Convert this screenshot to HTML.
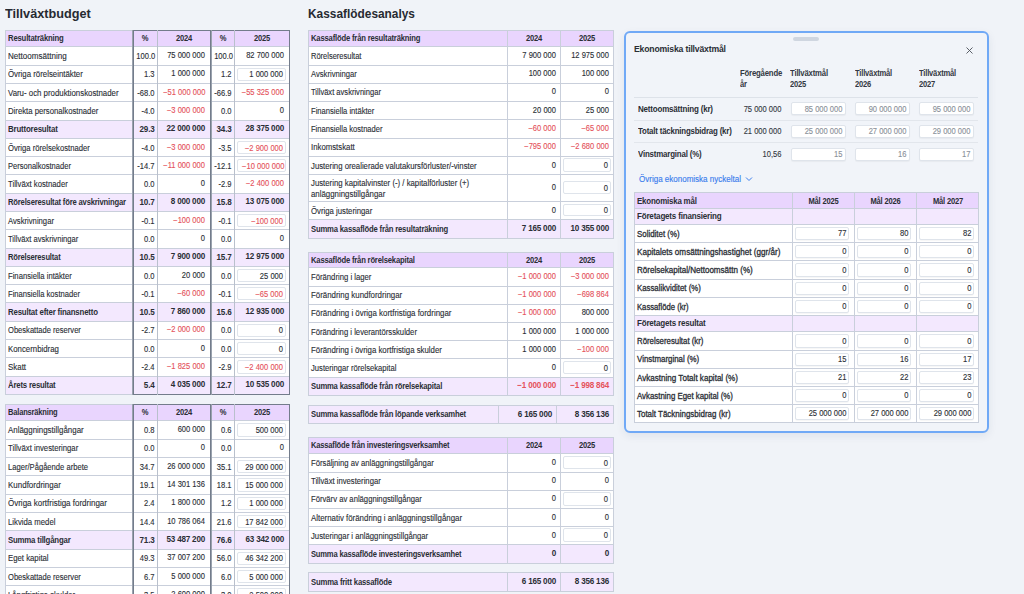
<!DOCTYPE html><html><head><meta charset="utf-8"><style>
*{margin:0;padding:0;box-sizing:border-box}
html,body{width:1024px;height:594px;overflow:hidden;background:#f0f3f8;font-family:"Liberation Sans",sans-serif;color:#2a2e35}
.a{position:absolute}
.t{position:absolute;height:12px;line-height:12px;font-size:8.5px;white-space:nowrap}
.r{transform:scaleX(0.91);-webkit-text-stroke:0.12px currentColor}
.n{transform:scaleX(0.89);-webkit-text-stroke:0.12px currentColor}
.b{font-weight:700;letter-spacing:-0.2px;transform:scaleX(0.89)}
.bn{font-weight:700;letter-spacing:-0.2px;transform:scaleX(0.95)}
.m{-webkit-text-stroke:0.3px currentColor}
.inp{position:absolute;background:#fff;border:1px solid #dfe4eb;border-radius:2px}
.h1{position:absolute;font-size:13.5px;font-weight:700;letter-spacing:0;line-height:16px;white-space:nowrap;transform:scaleX(0.94);transform-origin:left;color:#262a31}
</style></head><body>
<div class="h1" style="left:5px;top:5.5px">Tillväxtbudget</div>
<div class="h1" style="left:308px;top:5.5px;transform:scaleX(0.88)">Kassaflödesanalys</div>
<div class="a" style="left:5px;top:30px;width:285px;height:365px;background:#fff;"></div>
<div class="a" style="left:5px;top:30px;width:285px;height:16px;background:#e9d5fe;"></div>
<div class="a" style="left:5px;top:120px;width:285px;height:18px;background:#f3e8fe;"></div>
<div class="a" style="left:5px;top:193px;width:285px;height:18px;background:#f3e8fe;"></div>
<div class="a" style="left:5px;top:248px;width:285px;height:18px;background:#f3e8fe;"></div>
<div class="a" style="left:5px;top:302px;width:285px;height:19px;background:#f3e8fe;"></div>
<div class="a" style="left:5px;top:376px;width:285px;height:18px;background:#f3e8fe;"></div>
<div class="a" style="left:5px;top:30px;width:128px;height:1px;background:#c9cfdb;"></div>
<div class="a" style="left:133px;top:30px;width:157px;height:1px;background:#737c8b;"></div>
<div class="a" style="left:5px;top:46px;width:285px;height:1px;background:#c9cfdb;"></div>
<div class="a" style="left:5px;top:65px;width:285px;height:1px;background:#c9cfdb;"></div>
<div class="a" style="left:5px;top:83px;width:285px;height:1px;background:#c9cfdb;"></div>
<div class="a" style="left:5px;top:101px;width:285px;height:1px;background:#c9cfdb;"></div>
<div class="a" style="left:5px;top:120px;width:285px;height:1px;background:#c9cfdb;"></div>
<div class="a" style="left:5px;top:138px;width:285px;height:1px;background:#c9cfdb;"></div>
<div class="a" style="left:5px;top:156px;width:285px;height:1px;background:#c9cfdb;"></div>
<div class="a" style="left:5px;top:174px;width:285px;height:1px;background:#c9cfdb;"></div>
<div class="a" style="left:5px;top:193px;width:285px;height:1px;background:#c9cfdb;"></div>
<div class="a" style="left:5px;top:211px;width:285px;height:1px;background:#c9cfdb;"></div>
<div class="a" style="left:5px;top:229px;width:285px;height:1px;background:#c9cfdb;"></div>
<div class="a" style="left:5px;top:248px;width:285px;height:1px;background:#c9cfdb;"></div>
<div class="a" style="left:5px;top:266px;width:285px;height:1px;background:#c9cfdb;"></div>
<div class="a" style="left:5px;top:284px;width:285px;height:1px;background:#c9cfdb;"></div>
<div class="a" style="left:5px;top:302px;width:285px;height:1px;background:#c9cfdb;"></div>
<div class="a" style="left:5px;top:321px;width:285px;height:1px;background:#c9cfdb;"></div>
<div class="a" style="left:5px;top:339px;width:285px;height:1px;background:#c9cfdb;"></div>
<div class="a" style="left:5px;top:357px;width:285px;height:1px;background:#c9cfdb;"></div>
<div class="a" style="left:5px;top:376px;width:285px;height:1px;background:#c9cfdb;"></div>
<div class="a" style="left:5px;top:394px;width:128px;height:1px;background:#c9cfdb;"></div>
<div class="a" style="left:133px;top:394px;width:157px;height:1px;background:#737c8b;"></div>
<div class="a" style="left:5px;top:30px;width:1px;height:365px;background:#c9cfdb;"></div>
<div class="a" style="left:132px;top:30px;width:1px;height:365px;background:#9aa2ae;"></div>
<div class="a" style="left:133px;top:30px;width:1px;height:365px;background:#737c8b;"></div>
<div class="a" style="left:157px;top:30px;width:1px;height:365px;background:#b9c0cc;"></div>
<div class="a" style="left:210px;top:30px;width:1px;height:365px;background:#737c8b;"></div>
<div class="a" style="left:211px;top:30px;width:1px;height:365px;background:#9aa2ae;"></div>
<div class="a" style="left:234px;top:30px;width:1px;height:365px;background:#b9c0cc;"></div>
<div class="a" style="left:289px;top:30px;width:1px;height:365px;background:#737c8b;"></div>
<div class="t b" style="left:8px;width:125px;top:32.20px;text-align:left;transform-origin:left;;transform:scaleX(0.9082)">Resultaträkning</div>
<div class="t b" style="left:134px;width:22px;top:32.20px;text-align:center;transform-origin:center;">%</div>
<div class="t b" style="left:158px;width:52px;top:32.20px;text-align:center;transform-origin:center;">2024</div>
<div class="t b" style="left:212px;width:22px;top:32.20px;text-align:center;transform-origin:center;">%</div>
<div class="t b" style="left:235px;width:54px;top:32.20px;text-align:center;transform-origin:center;">2025</div>
<div class="t r" style="left:8px;width:125px;top:50.05px;text-align:left;transform-origin:left;;transform:scaleX(0.9484)">Nettoomsättning</div>
<div class="t n" style="left:134px;width:20.5px;top:50.05px;text-align:right;transform-origin:right;">100.0</div>
<div class="t n" style="left:158px;width:47px;top:49.05px;text-align:right;transform-origin:right;">75 000 000</div>
<div class="t n" style="left:212px;width:19.5px;top:50.05px;text-align:right;transform-origin:right;">100.0</div>
<div class="t n" style="left:235px;width:49px;top:49.05px;text-align:right;transform-origin:right;">82 700 000</div>
<div class="t r" style="left:8px;width:125px;top:68.33px;text-align:left;transform-origin:left;;transform:scaleX(0.9210)">Övriga rörelseintäkter</div>
<div class="t n" style="left:134px;width:20.5px;top:68.33px;text-align:right;transform-origin:right;">1.3</div>
<div class="t n" style="left:158px;width:47px;top:67.33px;text-align:right;transform-origin:right;">1 000 000</div>
<div class="t n" style="left:212px;width:19.5px;top:68.33px;text-align:right;transform-origin:right;">1.2</div>
<div class="inp" style="left:237px;top:68px;width:49px;height:13px;"></div>
<div class="t n" style="left:237px;width:46px;top:68.33px;text-align:right;transform-origin:right;">1 000 000</div>
<div class="t r" style="left:8px;width:125px;top:86.62px;text-align:left;transform-origin:left;;transform:scaleX(0.9225)">Varu- och produktionskostnader</div>
<div class="t n" style="left:134px;width:20.5px;top:86.62px;text-align:right;transform-origin:right;">-68.0</div>
<div class="t n" style="left:158px;width:47px;top:85.62px;text-align:right;transform-origin:right;color:#e5525b;">−51 000 000</div>
<div class="t n" style="left:212px;width:19.5px;top:86.62px;text-align:right;transform-origin:right;">-66.9</div>
<div class="t n" style="left:235px;width:49px;top:85.62px;text-align:right;transform-origin:right;color:#e5525b;">−55 325 000</div>
<div class="t r" style="left:8px;width:125px;top:104.91px;text-align:left;transform-origin:left;;transform:scaleX(0.9101)">Direkta personalkostnader</div>
<div class="t n" style="left:134px;width:20.5px;top:104.91px;text-align:right;transform-origin:right;">-4.0</div>
<div class="t n" style="left:158px;width:47px;top:103.91px;text-align:right;transform-origin:right;color:#e5525b;">−3 000 000</div>
<div class="t n" style="left:212px;width:19.5px;top:104.91px;text-align:right;transform-origin:right;">0.0</div>
<div class="t n" style="left:235px;width:49px;top:103.91px;text-align:right;transform-origin:right;">0</div>
<div class="t b" style="left:8px;width:125px;top:122.70px;text-align:left;transform-origin:left;;transform:scaleX(0.9283)">Bruttoresultat</div>
<div class="t bn" style="left:134px;width:20.5px;top:123.20px;text-align:right;transform-origin:right;">29.3</div>
<div class="t bn" style="left:158px;width:47px;top:122.20px;text-align:right;transform-origin:right;">22 000 000</div>
<div class="t bn" style="left:212px;width:19.5px;top:123.20px;text-align:right;transform-origin:right;">34.3</div>
<div class="t bn" style="left:235px;width:49px;top:122.20px;text-align:right;transform-origin:right;">28 375 000</div>
<div class="t r" style="left:8px;width:125px;top:141.50px;text-align:left;transform-origin:left;;transform:scaleX(0.9011)">Övriga rörelsekostnader</div>
<div class="t n" style="left:134px;width:20.5px;top:141.50px;text-align:right;transform-origin:right;">-4.0</div>
<div class="t n" style="left:158px;width:47px;top:140.50px;text-align:right;transform-origin:right;color:#e5525b;">−3 000 000</div>
<div class="t n" style="left:212px;width:19.5px;top:141.50px;text-align:right;transform-origin:right;">-3.5</div>
<div class="inp" style="left:237px;top:141px;width:49px;height:13px;"></div>
<div class="t n" style="left:237px;width:46px;top:141.50px;text-align:right;transform-origin:right;color:#e5525b;">−2 900 000</div>
<div class="t r" style="left:8px;width:125px;top:159.78px;text-align:left;transform-origin:left;;transform:scaleX(0.8873)">Personalkostnader</div>
<div class="t n" style="left:134px;width:20.5px;top:159.78px;text-align:right;transform-origin:right;">-14.7</div>
<div class="t n" style="left:158px;width:47px;top:158.78px;text-align:right;transform-origin:right;color:#e5525b;">−11 000 000</div>
<div class="t n" style="left:212px;width:19.5px;top:159.78px;text-align:right;transform-origin:right;">-12.1</div>
<div class="inp" style="left:237px;top:159px;width:49px;height:13px;"></div>
<div class="t n" style="left:237px;width:46px;top:159.78px;text-align:right;transform-origin:right;color:#e5525b;">−10 000 000</div>
<div class="t r" style="left:8px;width:125px;top:178.07px;text-align:left;transform-origin:left;;transform:scaleX(0.9076)">Tillväxt kostnader</div>
<div class="t n" style="left:134px;width:20.5px;top:178.07px;text-align:right;transform-origin:right;">0.0</div>
<div class="t n" style="left:158px;width:47px;top:177.07px;text-align:right;transform-origin:right;">0</div>
<div class="t n" style="left:212px;width:19.5px;top:178.07px;text-align:right;transform-origin:right;">-2.9</div>
<div class="t n" style="left:235px;width:49px;top:177.07px;text-align:right;transform-origin:right;color:#e5525b;">−2 400 000</div>
<div class="t b" style="left:8px;width:125px;top:195.87px;text-align:left;transform-origin:left;;transform:scaleX(0.8985)">Rörelseresultat före avskrivningar</div>
<div class="t bn" style="left:134px;width:20.5px;top:196.37px;text-align:right;transform-origin:right;">10.7</div>
<div class="t bn" style="left:158px;width:47px;top:195.37px;text-align:right;transform-origin:right;">8 000 000</div>
<div class="t bn" style="left:212px;width:19.5px;top:196.37px;text-align:right;transform-origin:right;">15.8</div>
<div class="t bn" style="left:235px;width:49px;top:195.37px;text-align:right;transform-origin:right;">13 075 000</div>
<div class="t r" style="left:8px;width:125px;top:214.65px;text-align:left;transform-origin:left;;transform:scaleX(0.9039)">Avskrivningar</div>
<div class="t n" style="left:134px;width:20.5px;top:214.65px;text-align:right;transform-origin:right;">-0.1</div>
<div class="t n" style="left:158px;width:47px;top:213.65px;text-align:right;transform-origin:right;color:#e5525b;">−100 000</div>
<div class="t n" style="left:212px;width:19.5px;top:214.65px;text-align:right;transform-origin:right;">-0.1</div>
<div class="inp" style="left:237px;top:214px;width:49px;height:13px;"></div>
<div class="t n" style="left:237px;width:46px;top:214.65px;text-align:right;transform-origin:right;color:#e5525b;">−100 000</div>
<div class="t r" style="left:8px;width:125px;top:232.94px;text-align:left;transform-origin:left;;transform:scaleX(0.8949)">Tillväxt avskrivningar</div>
<div class="t n" style="left:134px;width:20.5px;top:232.94px;text-align:right;transform-origin:right;">0.0</div>
<div class="t n" style="left:158px;width:47px;top:231.94px;text-align:right;transform-origin:right;">0</div>
<div class="t n" style="left:212px;width:19.5px;top:232.94px;text-align:right;transform-origin:right;">0.0</div>
<div class="t n" style="left:235px;width:49px;top:231.94px;text-align:right;transform-origin:right;">0</div>
<div class="t b" style="left:8px;width:125px;top:250.74px;text-align:left;transform-origin:left;;transform:scaleX(0.8915)">Rörelseresultat</div>
<div class="t bn" style="left:134px;width:20.5px;top:251.24px;text-align:right;transform-origin:right;">10.5</div>
<div class="t bn" style="left:158px;width:47px;top:250.24px;text-align:right;transform-origin:right;">7 900 000</div>
<div class="t bn" style="left:212px;width:19.5px;top:251.24px;text-align:right;transform-origin:right;">15.7</div>
<div class="t bn" style="left:235px;width:49px;top:250.24px;text-align:right;transform-origin:right;">12 975 000</div>
<div class="t r" style="left:8px;width:125px;top:269.52px;text-align:left;transform-origin:left;;transform:scaleX(0.9000)">Finansiella intäkter</div>
<div class="t n" style="left:134px;width:20.5px;top:269.52px;text-align:right;transform-origin:right;">0.0</div>
<div class="t n" style="left:158px;width:47px;top:268.52px;text-align:right;transform-origin:right;">20 000</div>
<div class="t n" style="left:212px;width:19.5px;top:269.52px;text-align:right;transform-origin:right;">0.0</div>
<div class="inp" style="left:237px;top:269px;width:49px;height:13px;"></div>
<div class="t n" style="left:237px;width:46px;top:269.52px;text-align:right;transform-origin:right;">25 000</div>
<div class="t r" style="left:8px;width:125px;top:287.81px;text-align:left;transform-origin:left;;transform:scaleX(0.8962)">Finansiella kostnader</div>
<div class="t n" style="left:134px;width:20.5px;top:287.81px;text-align:right;transform-origin:right;">-0.1</div>
<div class="t n" style="left:158px;width:47px;top:286.81px;text-align:right;transform-origin:right;color:#e5525b;">−60 000</div>
<div class="t n" style="left:212px;width:19.5px;top:287.81px;text-align:right;transform-origin:right;">-0.1</div>
<div class="inp" style="left:237px;top:287px;width:49px;height:13px;"></div>
<div class="t n" style="left:237px;width:46px;top:287.81px;text-align:right;transform-origin:right;color:#e5525b;">−65 000</div>
<div class="t b" style="left:8px;width:125px;top:305.60px;text-align:left;transform-origin:left;;transform:scaleX(0.9227)">Resultat efter finansnetto</div>
<div class="t bn" style="left:134px;width:20.5px;top:306.10px;text-align:right;transform-origin:right;">10.5</div>
<div class="t bn" style="left:158px;width:47px;top:305.10px;text-align:right;transform-origin:right;">7 860 000</div>
<div class="t bn" style="left:212px;width:19.5px;top:306.10px;text-align:right;transform-origin:right;">15.6</div>
<div class="t bn" style="left:235px;width:49px;top:305.10px;text-align:right;transform-origin:right;">12 935 000</div>
<div class="t r" style="left:8px;width:125px;top:324.39px;text-align:left;transform-origin:left;;transform:scaleX(0.8915)">Obeskattade reserver</div>
<div class="t n" style="left:134px;width:20.5px;top:324.39px;text-align:right;transform-origin:right;">-2.7</div>
<div class="t n" style="left:158px;width:47px;top:323.39px;text-align:right;transform-origin:right;color:#e5525b;">−2 000 000</div>
<div class="t n" style="left:212px;width:19.5px;top:324.39px;text-align:right;transform-origin:right;">0.0</div>
<div class="inp" style="left:237px;top:324px;width:49px;height:13px;"></div>
<div class="t n" style="left:237px;width:46px;top:324.39px;text-align:right;transform-origin:right;">0</div>
<div class="t r" style="left:8px;width:125px;top:342.68px;text-align:left;transform-origin:left;;transform:scaleX(0.9200)">Koncernbidrag</div>
<div class="t n" style="left:134px;width:20.5px;top:342.68px;text-align:right;transform-origin:right;">0.0</div>
<div class="t n" style="left:158px;width:47px;top:341.68px;text-align:right;transform-origin:right;">0</div>
<div class="t n" style="left:212px;width:19.5px;top:342.68px;text-align:right;transform-origin:right;">0.0</div>
<div class="inp" style="left:237px;top:342px;width:49px;height:13px;"></div>
<div class="t n" style="left:237px;width:46px;top:342.68px;text-align:right;transform-origin:right;">0</div>
<div class="t r" style="left:8px;width:125px;top:360.97px;text-align:left;transform-origin:left;;transform:scaleX(0.9316)">Skatt</div>
<div class="t n" style="left:134px;width:20.5px;top:360.97px;text-align:right;transform-origin:right;">-2.4</div>
<div class="t n" style="left:158px;width:47px;top:359.97px;text-align:right;transform-origin:right;color:#e5525b;">−1 825 000</div>
<div class="t n" style="left:212px;width:19.5px;top:360.97px;text-align:right;transform-origin:right;">-2.9</div>
<div class="inp" style="left:237px;top:360px;width:49px;height:14px;"></div>
<div class="t n" style="left:237px;width:46px;top:360.97px;text-align:right;transform-origin:right;color:#e5525b;">−2 400 000</div>
<div class="t b" style="left:8px;width:125px;top:378.76px;text-align:left;transform-origin:left;;transform:scaleX(0.9135)">Årets resultat</div>
<div class="t bn" style="left:134px;width:20.5px;top:379.26px;text-align:right;transform-origin:right;">5.4</div>
<div class="t bn" style="left:158px;width:47px;top:378.26px;text-align:right;transform-origin:right;">4 035 000</div>
<div class="t bn" style="left:212px;width:19.5px;top:379.26px;text-align:right;transform-origin:right;">12.7</div>
<div class="t bn" style="left:235px;width:49px;top:378.26px;text-align:right;transform-origin:right;">10 535 000</div>
<div class="a" style="left:5px;top:404px;width:285px;height:201px;background:#fff;"></div>
<div class="a" style="left:5px;top:404px;width:285px;height:16px;background:#e9d5fe;"></div>
<div class="a" style="left:5px;top:530px;width:285px;height:19px;background:#f3e8fe;"></div>
<div class="a" style="left:5px;top:404px;width:128px;height:1px;background:#c9cfdb;"></div>
<div class="a" style="left:133px;top:404px;width:157px;height:1px;background:#737c8b;"></div>
<div class="a" style="left:5px;top:420px;width:285px;height:1px;background:#c9cfdb;"></div>
<div class="a" style="left:5px;top:439px;width:285px;height:1px;background:#c9cfdb;"></div>
<div class="a" style="left:5px;top:457px;width:285px;height:1px;background:#c9cfdb;"></div>
<div class="a" style="left:5px;top:475px;width:285px;height:1px;background:#c9cfdb;"></div>
<div class="a" style="left:5px;top:494px;width:285px;height:1px;background:#c9cfdb;"></div>
<div class="a" style="left:5px;top:512px;width:285px;height:1px;background:#c9cfdb;"></div>
<div class="a" style="left:5px;top:530px;width:285px;height:1px;background:#c9cfdb;"></div>
<div class="a" style="left:5px;top:549px;width:285px;height:1px;background:#c9cfdb;"></div>
<div class="a" style="left:5px;top:567px;width:285px;height:1px;background:#c9cfdb;"></div>
<div class="a" style="left:5px;top:585px;width:285px;height:1px;background:#c9cfdb;"></div>
<div class="a" style="left:5px;top:604px;width:128px;height:1px;background:#c9cfdb;"></div>
<div class="a" style="left:133px;top:604px;width:157px;height:1px;background:#737c8b;"></div>
<div class="a" style="left:5px;top:404px;width:1px;height:201px;background:#c9cfdb;"></div>
<div class="a" style="left:132px;top:404px;width:1px;height:201px;background:#9aa2ae;"></div>
<div class="a" style="left:133px;top:404px;width:1px;height:201px;background:#737c8b;"></div>
<div class="a" style="left:157px;top:404px;width:1px;height:201px;background:#b9c0cc;"></div>
<div class="a" style="left:210px;top:404px;width:1px;height:201px;background:#737c8b;"></div>
<div class="a" style="left:211px;top:404px;width:1px;height:201px;background:#9aa2ae;"></div>
<div class="a" style="left:234px;top:404px;width:1px;height:201px;background:#b9c0cc;"></div>
<div class="a" style="left:289px;top:404px;width:1px;height:201px;background:#737c8b;"></div>
<div class="t b" style="left:8px;width:125px;top:406.35px;text-align:left;transform-origin:left;;transform:scaleX(0.8839)">Balansräkning</div>
<div class="t b" style="left:134px;width:22px;top:406.35px;text-align:center;transform-origin:center;">%</div>
<div class="t b" style="left:158px;width:52px;top:406.35px;text-align:center;transform-origin:center;">2024</div>
<div class="t b" style="left:212px;width:22px;top:406.35px;text-align:center;transform-origin:center;">%</div>
<div class="t b" style="left:235px;width:54px;top:406.35px;text-align:center;transform-origin:center;">2025</div>
<div class="t r" style="left:8px;width:125px;top:423.98px;text-align:left;transform-origin:left;;transform:scaleX(0.9309)">Anläggningstillgångar</div>
<div class="t n" style="left:134px;width:20.5px;top:423.98px;text-align:right;transform-origin:right;">0.8</div>
<div class="t n" style="left:158px;width:47px;top:422.98px;text-align:right;transform-origin:right;">600 000</div>
<div class="t n" style="left:212px;width:19.5px;top:423.98px;text-align:right;transform-origin:right;">0.6</div>
<div class="inp" style="left:237px;top:423px;width:49px;height:14px;"></div>
<div class="t n" style="left:237px;width:46px;top:423.98px;text-align:right;transform-origin:right;">500 000</div>
<div class="t r" style="left:8px;width:125px;top:442.33px;text-align:left;transform-origin:left;;transform:scaleX(0.9104)">Tillväxt investeringar</div>
<div class="t n" style="left:134px;width:20.5px;top:442.33px;text-align:right;transform-origin:right;">0.0</div>
<div class="t n" style="left:158px;width:47px;top:441.33px;text-align:right;transform-origin:right;">0</div>
<div class="t n" style="left:212px;width:19.5px;top:442.33px;text-align:right;transform-origin:right;">0.0</div>
<div class="t n" style="left:235px;width:49px;top:441.33px;text-align:right;transform-origin:right;">0</div>
<div class="t r" style="left:8px;width:125px;top:460.68px;text-align:left;transform-origin:left;;transform:scaleX(0.8955)">Lager/Pågående arbete</div>
<div class="t n" style="left:134px;width:20.5px;top:460.68px;text-align:right;transform-origin:right;">34.7</div>
<div class="t n" style="left:158px;width:47px;top:459.68px;text-align:right;transform-origin:right;">26 000 000</div>
<div class="t n" style="left:212px;width:19.5px;top:460.68px;text-align:right;transform-origin:right;">35.1</div>
<div class="inp" style="left:237px;top:460px;width:49px;height:13px;"></div>
<div class="t n" style="left:237px;width:46px;top:460.68px;text-align:right;transform-origin:right;">29 000 000</div>
<div class="t r" style="left:8px;width:125px;top:479.03px;text-align:left;transform-origin:left;;transform:scaleX(0.9393)">Kundfordringar</div>
<div class="t n" style="left:134px;width:20.5px;top:479.03px;text-align:right;transform-origin:right;">19.1</div>
<div class="t n" style="left:158px;width:47px;top:478.03px;text-align:right;transform-origin:right;">14 301 136</div>
<div class="t n" style="left:212px;width:19.5px;top:479.03px;text-align:right;transform-origin:right;">18.1</div>
<div class="inp" style="left:237px;top:478px;width:49px;height:14px;"></div>
<div class="t n" style="left:237px;width:46px;top:479.03px;text-align:right;transform-origin:right;">15 000 000</div>
<div class="t r" style="left:8px;width:125px;top:497.38px;text-align:left;transform-origin:left;;transform:scaleX(0.9390)">Övriga kortfristiga fordringar</div>
<div class="t n" style="left:134px;width:20.5px;top:497.38px;text-align:right;transform-origin:right;">2.4</div>
<div class="t n" style="left:158px;width:47px;top:496.38px;text-align:right;transform-origin:right;">1 800 000</div>
<div class="t n" style="left:212px;width:19.5px;top:497.38px;text-align:right;transform-origin:right;">1.2</div>
<div class="inp" style="left:237px;top:497px;width:49px;height:13px;"></div>
<div class="t n" style="left:237px;width:46px;top:497.38px;text-align:right;transform-origin:right;">1 000 000</div>
<div class="t r" style="left:8px;width:125px;top:515.72px;text-align:left;transform-origin:left;;transform:scaleX(0.9135)">Likvida medel</div>
<div class="t n" style="left:134px;width:20.5px;top:515.72px;text-align:right;transform-origin:right;">14.4</div>
<div class="t n" style="left:158px;width:47px;top:514.72px;text-align:right;transform-origin:right;">10 786 064</div>
<div class="t n" style="left:212px;width:19.5px;top:515.72px;text-align:right;transform-origin:right;">21.6</div>
<div class="inp" style="left:237px;top:515px;width:49px;height:13px;"></div>
<div class="t n" style="left:237px;width:46px;top:515.72px;text-align:right;transform-origin:right;">17 842 000</div>
<div class="t b" style="left:8px;width:125px;top:533.58px;text-align:left;transform-origin:left;;transform:scaleX(0.9176)">Summa tillgångar</div>
<div class="t bn" style="left:134px;width:20.5px;top:534.08px;text-align:right;transform-origin:right;">71.3</div>
<div class="t bn" style="left:158px;width:47px;top:533.08px;text-align:right;transform-origin:right;">53 487 200</div>
<div class="t bn" style="left:212px;width:19.5px;top:534.08px;text-align:right;transform-origin:right;">76.6</div>
<div class="t bn" style="left:235px;width:49px;top:533.08px;text-align:right;transform-origin:right;">63 342 000</div>
<div class="t r" style="left:8px;width:125px;top:552.42px;text-align:left;transform-origin:left;;transform:scaleX(0.9136)">Eget kapital</div>
<div class="t n" style="left:134px;width:20.5px;top:552.42px;text-align:right;transform-origin:right;">49.3</div>
<div class="t n" style="left:158px;width:47px;top:551.42px;text-align:right;transform-origin:right;">37 007 200</div>
<div class="t n" style="left:212px;width:19.5px;top:552.42px;text-align:right;transform-origin:right;">56.0</div>
<div class="inp" style="left:237px;top:552px;width:49px;height:13px;"></div>
<div class="t n" style="left:237px;width:46px;top:552.42px;text-align:right;transform-origin:right;">46 342 200</div>
<div class="t r" style="left:8px;width:125px;top:570.78px;text-align:left;transform-origin:left;;transform:scaleX(0.8915)">Obeskattade reserver</div>
<div class="t n" style="left:134px;width:20.5px;top:570.78px;text-align:right;transform-origin:right;">6.7</div>
<div class="t n" style="left:158px;width:47px;top:569.78px;text-align:right;transform-origin:right;">5 000 000</div>
<div class="t n" style="left:212px;width:19.5px;top:570.78px;text-align:right;transform-origin:right;">6.0</div>
<div class="inp" style="left:237px;top:570px;width:49px;height:13px;"></div>
<div class="t n" style="left:237px;width:46px;top:570.78px;text-align:right;transform-origin:right;">5 000 000</div>
<div class="t r" style="left:8px;width:125px;top:589.12px;text-align:left;transform-origin:left;">Långfristiga skulder</div>
<div class="t n" style="left:134px;width:20.5px;top:589.12px;text-align:right;transform-origin:right;">3.5</div>
<div class="t n" style="left:158px;width:47px;top:588.12px;text-align:right;transform-origin:right;">2 600 000</div>
<div class="t n" style="left:212px;width:19.5px;top:589.12px;text-align:right;transform-origin:right;">3.0</div>
<div class="inp" style="left:237px;top:588px;width:49px;height:14px;"></div>
<div class="t n" style="left:237px;width:46px;top:589.12px;text-align:right;transform-origin:right;">2 500 000</div>
<div class="a" style="left:308px;top:30px;width:306px;height:209px;background:#fff;"></div>
<div class="a" style="left:308px;top:30px;width:306px;height:16px;background:#e9d5fe;"></div>
<div class="a" style="left:308px;top:219px;width:306px;height:19px;background:#f3e8fe;"></div>
<div class="a" style="left:308px;top:30px;width:306px;height:1px;background:#c9cfdb;"></div>
<div class="a" style="left:308px;top:46px;width:306px;height:1px;background:#c9cfdb;"></div>
<div class="a" style="left:308px;top:65px;width:306px;height:1px;background:#c9cfdb;"></div>
<div class="a" style="left:308px;top:83px;width:306px;height:1px;background:#c9cfdb;"></div>
<div class="a" style="left:308px;top:101px;width:306px;height:1px;background:#c9cfdb;"></div>
<div class="a" style="left:308px;top:119px;width:306px;height:1px;background:#c9cfdb;"></div>
<div class="a" style="left:308px;top:138px;width:306px;height:1px;background:#c9cfdb;"></div>
<div class="a" style="left:308px;top:156px;width:306px;height:1px;background:#c9cfdb;"></div>
<div class="a" style="left:308px;top:174px;width:306px;height:1px;background:#c9cfdb;"></div>
<div class="a" style="left:308px;top:201px;width:306px;height:1px;background:#c9cfdb;"></div>
<div class="a" style="left:308px;top:219px;width:306px;height:1px;background:#c9cfdb;"></div>
<div class="a" style="left:308px;top:238px;width:306px;height:1px;background:#c9cfdb;"></div>
<div class="a" style="left:308px;top:30px;width:1px;height:209px;background:#c9cfdb;"></div>
<div class="a" style="left:507px;top:30px;width:1px;height:209px;background:#c9cfdb;"></div>
<div class="a" style="left:560px;top:30px;width:1px;height:209px;background:#c9cfdb;"></div>
<div class="a" style="left:613px;top:30px;width:1px;height:209px;background:#c9cfdb;"></div>
<div class="t b" style="left:311px;width:196px;top:32.15px;text-align:left;transform-origin:left;;transform:scaleX(0.9000)">Kassaflöde från resultaträkning</div>
<div class="t b" style="left:508px;width:52px;top:32.15px;text-align:center;transform-origin:center;">2024</div>
<div class="t b" style="left:561px;width:52px;top:32.15px;text-align:center;transform-origin:center;">2025</div>
<div class="t r" style="left:311px;width:196px;top:49.98px;text-align:left;transform-origin:left;;transform:scaleX(0.8825)">Rörelseresultat</div>
<div class="t n" style="left:508px;width:48px;top:48.98px;text-align:right;transform-origin:right;">7 900 000</div>
<div class="t n" style="left:561px;width:48px;top:48.98px;text-align:right;transform-origin:right;">12 975 000</div>
<div class="t r" style="left:311px;width:196px;top:68.25px;text-align:left;transform-origin:left;;transform:scaleX(0.8980)">Avskrivningar</div>
<div class="t n" style="left:508px;width:48px;top:67.25px;text-align:right;transform-origin:right;">100 000</div>
<div class="t n" style="left:561px;width:48px;top:67.25px;text-align:right;transform-origin:right;">100 000</div>
<div class="t r" style="left:311px;width:196px;top:86.35px;text-align:left;transform-origin:left;;transform:scaleX(0.8899)">Tillväxt avskrivningar</div>
<div class="t n" style="left:508px;width:48px;top:85.35px;text-align:right;transform-origin:right;">0</div>
<div class="t n" style="left:561px;width:48px;top:85.35px;text-align:right;transform-origin:right;">0</div>
<div class="t r" style="left:311px;width:196px;top:104.65px;text-align:left;transform-origin:left;;transform:scaleX(0.8930)">Finansiella intäkter</div>
<div class="t n" style="left:508px;width:48px;top:103.65px;text-align:right;transform-origin:right;">20 000</div>
<div class="t n" style="left:561px;width:48px;top:103.65px;text-align:right;transform-origin:right;">25 000</div>
<div class="t r" style="left:311px;width:196px;top:123.10px;text-align:left;transform-origin:left;;transform:scaleX(0.8900)">Finansiella kostnader</div>
<div class="t n" style="left:508px;width:48px;top:122.10px;text-align:right;transform-origin:right;color:#e5525b;">−60 000</div>
<div class="t n" style="left:561px;width:48px;top:122.10px;text-align:right;transform-origin:right;color:#e5525b;">−65 000</div>
<div class="t r" style="left:311px;width:196px;top:141.35px;text-align:left;transform-origin:left;;transform:scaleX(0.9167)">Inkomstskatt</div>
<div class="t n" style="left:508px;width:48px;top:140.35px;text-align:right;transform-origin:right;color:#e5525b;">−795 000</div>
<div class="t n" style="left:561px;width:48px;top:140.35px;text-align:right;transform-origin:right;color:#e5525b;">−2 680 000</div>
<div class="t r" style="left:311px;width:196px;top:159.50px;text-align:left;transform-origin:left;;transform:scaleX(0.9127)">Justering orealierade valutakursförluster/-vinster</div>
<div class="t n" style="left:508px;width:48px;top:158.50px;text-align:right;transform-origin:right;">0</div>
<div class="inp" style="left:563px;top:158px;width:48px;height:14px;"></div>
<div class="t n" style="left:563px;width:45px;top:159.00px;text-align:right;transform-origin:right;">0</div>
<div class="t r" style="left:311px;width:196px;top:177.40px;text-align:left;transform-origin:left;;transform:scaleX(0.9162)">Justering kapitalvinster (-) / kapitalförluster (+)</div>
<div class="t r" style="left:311px;width:196px;top:188.30px;text-align:left;transform-origin:left;;transform:scaleX(0.9250)">anläggningstillgångar</div>
<div class="t n" style="left:508px;width:48px;top:181.20px;text-align:right;transform-origin:right;">0</div>
<div class="inp" style="left:563px;top:181px;width:48px;height:13px;"></div>
<div class="t n" style="left:563px;width:45px;top:181.70px;text-align:right;transform-origin:right;">0</div>
<div class="t r" style="left:311px;width:196px;top:204.85px;text-align:left;transform-origin:left;;transform:scaleX(0.9134)">Övriga justeringar</div>
<div class="t n" style="left:508px;width:48px;top:203.85px;text-align:right;transform-origin:right;">0</div>
<div class="inp" style="left:563px;top:204px;width:48px;height:12px;"></div>
<div class="t n" style="left:563px;width:45px;top:204.35px;text-align:right;transform-origin:right;">0</div>
<div class="t b" style="left:311px;width:196px;top:222.60px;text-align:left;transform-origin:left;;transform:scaleX(0.9020)">Summa kassaflöde från resultaträkning</div>
<div class="t bn" style="left:508px;width:48px;top:222.10px;text-align:right;transform-origin:right;">7 165 000</div>
<div class="t bn" style="left:561px;width:48px;top:222.10px;text-align:right;transform-origin:right;">10 355 000</div>
<div class="a" style="left:308px;top:252px;width:306px;height:144px;background:#fff;"></div>
<div class="a" style="left:308px;top:252px;width:306px;height:15px;background:#e9d5fe;"></div>
<div class="a" style="left:308px;top:377px;width:306px;height:18px;background:#f3e8fe;"></div>
<div class="a" style="left:308px;top:252px;width:306px;height:1px;background:#c9cfdb;"></div>
<div class="a" style="left:308px;top:267px;width:306px;height:1px;background:#c9cfdb;"></div>
<div class="a" style="left:308px;top:286px;width:306px;height:1px;background:#c9cfdb;"></div>
<div class="a" style="left:308px;top:304px;width:306px;height:1px;background:#c9cfdb;"></div>
<div class="a" style="left:308px;top:322px;width:306px;height:1px;background:#c9cfdb;"></div>
<div class="a" style="left:308px;top:340px;width:306px;height:1px;background:#c9cfdb;"></div>
<div class="a" style="left:308px;top:358px;width:306px;height:1px;background:#c9cfdb;"></div>
<div class="a" style="left:308px;top:377px;width:306px;height:1px;background:#c9cfdb;"></div>
<div class="a" style="left:308px;top:395px;width:306px;height:1px;background:#c9cfdb;"></div>
<div class="a" style="left:308px;top:252px;width:1px;height:144px;background:#c9cfdb;"></div>
<div class="a" style="left:507px;top:252px;width:1px;height:144px;background:#c9cfdb;"></div>
<div class="a" style="left:560px;top:252px;width:1px;height:144px;background:#c9cfdb;"></div>
<div class="a" style="left:613px;top:252px;width:1px;height:144px;background:#c9cfdb;"></div>
<div class="t b" style="left:311px;width:196px;top:253.50px;text-align:left;transform-origin:left;;transform:scaleX(0.8991)">Kassaflöde från rörelsekapital</div>
<div class="t b" style="left:508px;width:52px;top:253.50px;text-align:center;transform-origin:center;">2024</div>
<div class="t b" style="left:561px;width:52px;top:253.50px;text-align:center;transform-origin:center;">2025</div>
<div class="t r" style="left:311px;width:196px;top:271.00px;text-align:left;transform-origin:left;;transform:scaleX(0.9060)">Förändring i lager</div>
<div class="t n" style="left:508px;width:48px;top:270.00px;text-align:right;transform-origin:right;color:#e5525b;">−1 000 000</div>
<div class="t n" style="left:561px;width:48px;top:270.00px;text-align:right;transform-origin:right;color:#e5525b;">−3 000 000</div>
<div class="t r" style="left:311px;width:196px;top:289.20px;text-align:left;transform-origin:left;;transform:scaleX(0.9276)">Förändring kundfordringar</div>
<div class="t n" style="left:508px;width:48px;top:288.20px;text-align:right;transform-origin:right;color:#e5525b;">−1 000 000</div>
<div class="t n" style="left:561px;width:48px;top:288.20px;text-align:right;transform-origin:right;color:#e5525b;">−698 864</div>
<div class="t r" style="left:311px;width:196px;top:307.40px;text-align:left;transform-origin:left;;transform:scaleX(0.9291)">Förändring i övriga kortfristiga fordringar</div>
<div class="t n" style="left:508px;width:48px;top:306.40px;text-align:right;transform-origin:right;color:#e5525b;">−1 000 000</div>
<div class="t n" style="left:561px;width:48px;top:306.40px;text-align:right;transform-origin:right;">800 000</div>
<div class="t r" style="left:311px;width:196px;top:325.60px;text-align:left;transform-origin:left;;transform:scaleX(0.9043)">Förändring i leverantörsskulder</div>
<div class="t n" style="left:508px;width:48px;top:324.60px;text-align:right;transform-origin:right;">1 000 000</div>
<div class="t n" style="left:561px;width:48px;top:324.60px;text-align:right;transform-origin:right;">1 000 000</div>
<div class="t r" style="left:311px;width:196px;top:343.80px;text-align:left;transform-origin:left;;transform:scaleX(0.9204)">Förändring i övriga kortfristiga skulder</div>
<div class="t n" style="left:508px;width:48px;top:342.80px;text-align:right;transform-origin:right;">1 000 000</div>
<div class="t n" style="left:561px;width:48px;top:342.80px;text-align:right;transform-origin:right;color:#e5525b;">−100 000</div>
<div class="t r" style="left:311px;width:196px;top:362.00px;text-align:left;transform-origin:left;;transform:scaleX(0.8989)">Justeringar rörelsekapital</div>
<div class="t n" style="left:508px;width:48px;top:361.00px;text-align:right;transform-origin:right;">0</div>
<div class="inp" style="left:563px;top:361px;width:48px;height:13px;"></div>
<div class="t n" style="left:563px;width:45px;top:361.50px;text-align:right;transform-origin:right;">0</div>
<div class="t b" style="left:311px;width:196px;top:379.70px;text-align:left;transform-origin:left;;transform:scaleX(0.8986)">Summa kassaflöde från rörelsekapital</div>
<div class="t bn" style="left:508px;width:48px;top:379.20px;text-align:right;transform-origin:right;color:#e5525b;">−1 000 000</div>
<div class="t bn" style="left:561px;width:48px;top:379.20px;text-align:right;transform-origin:right;color:#e5525b;">−1 998 864</div>
<div class="a" style="left:308px;top:405px;width:306px;height:19px;background:#f3e8fe;"></div>
<div class="a" style="left:308px;top:405px;width:306px;height:18px;background:#f3e8fe;"></div>
<div class="a" style="left:308px;top:405px;width:306px;height:1px;background:#c9cfdb;"></div>
<div class="a" style="left:308px;top:405px;width:306px;height:1px;background:#c9cfdb;"></div>
<div class="a" style="left:308px;top:423px;width:306px;height:1px;background:#c9cfdb;"></div>
<div class="a" style="left:308px;top:405px;width:1px;height:19px;background:#c9cfdb;"></div>
<div class="a" style="left:498px;top:405px;width:1px;height:19px;background:#c9cfdb;"></div>
<div class="a" style="left:556px;top:405px;width:1px;height:19px;background:#c9cfdb;"></div>
<div class="a" style="left:613px;top:405px;width:1px;height:19px;background:#c9cfdb;"></div>
<div class="t b" style="left:311px;width:187px;top:408.10px;text-align:left;transform-origin:left;;transform:scaleX(0.9006)">Summa kassaflöde från löpande verksamhet</div>
<div class="t bn" style="left:499px;width:53px;top:407.60px;text-align:right;transform-origin:right;">6 165 000</div>
<div class="t bn" style="left:557px;width:52px;top:407.60px;text-align:right;transform-origin:right;">8 356 136</div>
<div class="a" style="left:308px;top:437px;width:306px;height:127px;background:#fff;"></div>
<div class="a" style="left:308px;top:437px;width:306px;height:16px;background:#e9d5fe;"></div>
<div class="a" style="left:308px;top:544px;width:306px;height:19px;background:#f3e8fe;"></div>
<div class="a" style="left:308px;top:437px;width:306px;height:1px;background:#c9cfdb;"></div>
<div class="a" style="left:308px;top:453px;width:306px;height:1px;background:#c9cfdb;"></div>
<div class="a" style="left:308px;top:472px;width:306px;height:1px;background:#c9cfdb;"></div>
<div class="a" style="left:308px;top:490px;width:306px;height:1px;background:#c9cfdb;"></div>
<div class="a" style="left:308px;top:508px;width:306px;height:1px;background:#c9cfdb;"></div>
<div class="a" style="left:308px;top:526px;width:306px;height:1px;background:#c9cfdb;"></div>
<div class="a" style="left:308px;top:544px;width:306px;height:1px;background:#c9cfdb;"></div>
<div class="a" style="left:308px;top:563px;width:306px;height:1px;background:#c9cfdb;"></div>
<div class="a" style="left:308px;top:437px;width:1px;height:127px;background:#c9cfdb;"></div>
<div class="a" style="left:507px;top:437px;width:1px;height:127px;background:#c9cfdb;"></div>
<div class="a" style="left:560px;top:437px;width:1px;height:127px;background:#c9cfdb;"></div>
<div class="a" style="left:613px;top:437px;width:1px;height:127px;background:#c9cfdb;"></div>
<div class="t b" style="left:311px;width:196px;top:439.40px;text-align:left;transform-origin:left;;transform:scaleX(0.8878)">Kassaflöde från investeringsverksamhet</div>
<div class="t b" style="left:508px;width:52px;top:439.40px;text-align:center;transform-origin:center;">2024</div>
<div class="t b" style="left:561px;width:52px;top:439.40px;text-align:center;transform-origin:center;">2025</div>
<div class="t r" style="left:311px;width:196px;top:457.00px;text-align:left;transform-origin:left;;transform:scaleX(0.9051)">Försäljning av anläggningstillgångar</div>
<div class="t n" style="left:508px;width:48px;top:456.00px;text-align:right;transform-origin:right;">0</div>
<div class="inp" style="left:563px;top:456px;width:48px;height:13px;"></div>
<div class="t n" style="left:563px;width:45px;top:456.50px;text-align:right;transform-origin:right;">0</div>
<div class="t r" style="left:311px;width:196px;top:475.20px;text-align:left;transform-origin:left;;transform:scaleX(0.9039)">Tillväxt investeringar</div>
<div class="t n" style="left:508px;width:48px;top:474.20px;text-align:right;transform-origin:right;">0</div>
<div class="t n" style="left:561px;width:48px;top:474.20px;text-align:right;transform-origin:right;">0</div>
<div class="t r" style="left:311px;width:196px;top:493.40px;text-align:left;transform-origin:left;;transform:scaleX(0.9024)">Förvärv av anläggningstillgångar</div>
<div class="t n" style="left:508px;width:48px;top:492.40px;text-align:right;transform-origin:right;">0</div>
<div class="inp" style="left:563px;top:492px;width:48px;height:14px;"></div>
<div class="t n" style="left:563px;width:45px;top:492.90px;text-align:right;transform-origin:right;">0</div>
<div class="t r" style="left:311px;width:196px;top:511.60px;text-align:left;transform-origin:left;;transform:scaleX(0.9270)">Alternativ förändring i anläggningstillgångar</div>
<div class="t n" style="left:508px;width:48px;top:510.60px;text-align:right;transform-origin:right;">0</div>
<div class="t n" style="left:561px;width:48px;top:510.60px;text-align:right;transform-origin:right;">0</div>
<div class="t r" style="left:311px;width:196px;top:529.80px;text-align:left;transform-origin:left;;transform:scaleX(0.9085)">Justeringar i anläggningstillgångar</div>
<div class="t n" style="left:508px;width:48px;top:528.80px;text-align:right;transform-origin:right;">0</div>
<div class="inp" style="left:563px;top:528px;width:48px;height:14px;"></div>
<div class="t n" style="left:563px;width:45px;top:529.30px;text-align:right;transform-origin:right;">0</div>
<div class="t b" style="left:311px;width:196px;top:547.50px;text-align:left;transform-origin:left;;transform:scaleX(0.8905)">Summa kassaflöde investeringsverksamhet</div>
<div class="t bn" style="left:508px;width:48px;top:547.00px;text-align:right;transform-origin:right;">0</div>
<div class="t bn" style="left:561px;width:48px;top:547.00px;text-align:right;transform-origin:right;">0</div>
<div class="a" style="left:308px;top:572px;width:306px;height:20px;background:#f3e8fe;"></div>
<div class="a" style="left:308px;top:572px;width:306px;height:19px;background:#f3e8fe;"></div>
<div class="a" style="left:308px;top:572px;width:306px;height:1px;background:#c9cfdb;"></div>
<div class="a" style="left:308px;top:572px;width:306px;height:1px;background:#c9cfdb;"></div>
<div class="a" style="left:308px;top:591px;width:306px;height:1px;background:#c9cfdb;"></div>
<div class="a" style="left:308px;top:572px;width:1px;height:20px;background:#c9cfdb;"></div>
<div class="a" style="left:507px;top:572px;width:1px;height:20px;background:#c9cfdb;"></div>
<div class="a" style="left:560px;top:572px;width:1px;height:20px;background:#c9cfdb;"></div>
<div class="a" style="left:613px;top:572px;width:1px;height:20px;background:#c9cfdb;"></div>
<div class="t b" style="left:311px;width:196px;top:575.50px;text-align:left;transform-origin:left;;transform:scaleX(0.9067)">Summa fritt kassaflöde</div>
<div class="t bn" style="left:508px;width:48px;top:575.00px;text-align:right;transform-origin:right;">6 165 000</div>
<div class="t bn" style="left:561px;width:48px;top:575.00px;text-align:right;transform-origin:right;">8 356 136</div>
<div class="a" style="left:624px;top:31px;width:365px;height:402px;border:2px solid #70a9f6;border-radius:6px;background:#f1f4f9;box-shadow:0 3px 8px rgba(30,50,90,0.08)"></div>
<div class="a" style="left:793px;top:37px;width:26px;height:4px;background:#cfd6e0;border-radius:2px"></div>
<div class="t b" style="left:634px;width:126px;top:42.80px;text-align:left;transform-origin:left;font-size:9.6px;transform:scaleX(0.9);transform:scaleX(0.9029)">Ekonomiska tillväxtmål</div>
<svg class="a" style="left:966px;top:47px" width="7" height="7" viewBox="0 0 7 7"><path d="M0.5 0.5L6.5 6.5M6.5 0.5L0.5 6.5" stroke="#4a4f57" stroke-width="0.9" fill="none"/></svg>
<div class="t b" style="left:740px;width:60px;top:66.80px;text-align:left;transform-origin:left;color:#333842;;transform:scaleX(0.9109)">Föregående</div>
<div class="t b" style="left:740px;width:60px;top:77.60px;text-align:left;transform-origin:left;color:#333842;">år</div>
<div class="t b" style="left:790px;width:60px;top:66.80px;text-align:left;transform-origin:left;color:#333842;;transform:scaleX(0.9119)">Tillväxtmål</div>
<div class="t b" style="left:790px;width:60px;top:77.60px;text-align:left;transform-origin:left;color:#333842;">2025</div>
<div class="t b" style="left:854.5px;width:60.0px;top:66.80px;text-align:left;transform-origin:left;color:#333842;">Tillväxtmål</div>
<div class="t b" style="left:854.5px;width:60.0px;top:77.60px;text-align:left;transform-origin:left;color:#333842;">2026</div>
<div class="t b" style="left:919px;width:60px;top:66.80px;text-align:left;transform-origin:left;color:#333842;">Tillväxtmål</div>
<div class="t b" style="left:919px;width:60px;top:77.60px;text-align:left;transform-origin:left;color:#333842;">2027</div>
<div class="a" style="left:634px;top:97px;width:344px;height:1px;background:#dde2e9;"></div>
<div class="a" style="left:634px;top:120px;width:344px;height:1px;background:#e2e6ec;"></div>
<div class="a" style="left:634px;top:142px;width:344px;height:1px;background:#e2e6ec;"></div>
<div class="t b" style="left:638px;width:122px;top:102.90px;text-align:left;transform-origin:left;transform:scaleX(0.935);transform:scaleX(0.9400)">Nettoomsättning (kr)</div>
<div class="t n" style="left:700px;width:81.5px;top:102.90px;text-align:right;transform-origin:right;color:#333842;">75 000 000</div>
<div class="inp" style="left:791px;top:102px;width:55px;height:13px;box-shadow:0 1px 1px rgba(0,0,0,0.04)"></div>
<div class="t n" style="left:791px;width:51.5px;top:102.90px;text-align:right;transform-origin:right;color:#8a9099;">85 000 000</div>
<div class="inp" style="left:855px;top:102px;width:55px;height:13px;box-shadow:0 1px 1px rgba(0,0,0,0.04)"></div>
<div class="t n" style="left:855px;width:51.5px;top:102.90px;text-align:right;transform-origin:right;color:#8a9099;">90 000 000</div>
<div class="inp" style="left:919px;top:102px;width:55px;height:13px;box-shadow:0 1px 1px rgba(0,0,0,0.04)"></div>
<div class="t n" style="left:919px;width:51.5px;top:102.90px;text-align:right;transform-origin:right;color:#8a9099;">95 000 000</div>
<div class="t b" style="left:638px;width:122px;top:125.30px;text-align:left;transform-origin:left;transform:scaleX(0.935);transform:scaleX(0.9248)">Totalt täckningsbidrag (kr)</div>
<div class="t n" style="left:700px;width:81.5px;top:125.30px;text-align:right;transform-origin:right;color:#333842;">21 000 000</div>
<div class="inp" style="left:791px;top:125px;width:55px;height:13px;box-shadow:0 1px 1px rgba(0,0,0,0.04)"></div>
<div class="t n" style="left:791px;width:51.5px;top:125.30px;text-align:right;transform-origin:right;color:#8a9099;">25 000 000</div>
<div class="inp" style="left:855px;top:125px;width:55px;height:13px;box-shadow:0 1px 1px rgba(0,0,0,0.04)"></div>
<div class="t n" style="left:855px;width:51.5px;top:125.30px;text-align:right;transform-origin:right;color:#8a9099;">27 000 000</div>
<div class="inp" style="left:919px;top:125px;width:55px;height:13px;box-shadow:0 1px 1px rgba(0,0,0,0.04)"></div>
<div class="t n" style="left:919px;width:51.5px;top:125.30px;text-align:right;transform-origin:right;color:#8a9099;">29 000 000</div>
<div class="t b" style="left:638px;width:122px;top:147.90px;text-align:left;transform-origin:left;transform:scaleX(0.935);transform:scaleX(0.9294)">Vinstmarginal (%)</div>
<div class="t n" style="left:700px;width:81.5px;top:147.90px;text-align:right;transform-origin:right;color:#333842;">10,56</div>
<div class="inp" style="left:791px;top:148px;width:55px;height:13px;box-shadow:0 1px 1px rgba(0,0,0,0.04)"></div>
<div class="t n" style="left:791px;width:51.5px;top:147.90px;text-align:right;transform-origin:right;color:#8a9099;">15</div>
<div class="inp" style="left:855px;top:148px;width:55px;height:13px;box-shadow:0 1px 1px rgba(0,0,0,0.04)"></div>
<div class="t n" style="left:855px;width:51.5px;top:147.90px;text-align:right;transform-origin:right;color:#8a9099;">16</div>
<div class="inp" style="left:919px;top:148px;width:55px;height:13px;box-shadow:0 1px 1px rgba(0,0,0,0.04)"></div>
<div class="t n" style="left:919px;width:51.5px;top:147.90px;text-align:right;transform-origin:right;color:#8a9099;">17</div>
<div class="t r" style="left:639px;width:106px;top:172.80px;text-align:left;transform-origin:left;color:#3b7ded;transform:scaleX(0.933);-webkit-text-stroke:0.15px #3b7ded;transform:scaleX(0.9426)">Övriga ekonomiska nyckeltal</div>
<svg class="a" style="left:745px;top:176px" width="8" height="6" viewBox="0 0 8 6"><path d="M1 1.5L4 4.5L7 1.5" stroke="#3b7ded" stroke-width="1" fill="none"/></svg>
<div class="a" style="left:634px;top:192px;width:345px;height:231px;background:#fff;"></div>
<div class="a" style="left:634px;top:192px;width:345px;height:16px;background:#e9d5fe;"></div>
<div class="a" style="left:634px;top:208px;width:345px;height:16px;background:#f3e8fe;"></div>
<div class="a" style="left:634px;top:315px;width:345px;height:16px;background:#f3e8fe;"></div>
<div class="a" style="left:634px;top:192px;width:345px;height:1px;background:#c9cfdb;"></div>
<div class="a" style="left:634px;top:208px;width:345px;height:1px;background:#c9cfdb;"></div>
<div class="a" style="left:634px;top:224px;width:345px;height:1px;background:#c9cfdb;"></div>
<div class="a" style="left:634px;top:242px;width:345px;height:1px;background:#c9cfdb;"></div>
<div class="a" style="left:634px;top:260px;width:345px;height:1px;background:#c9cfdb;"></div>
<div class="a" style="left:634px;top:279px;width:345px;height:1px;background:#c9cfdb;"></div>
<div class="a" style="left:634px;top:297px;width:345px;height:1px;background:#c9cfdb;"></div>
<div class="a" style="left:634px;top:315px;width:345px;height:1px;background:#c9cfdb;"></div>
<div class="a" style="left:634px;top:331px;width:345px;height:1px;background:#c9cfdb;"></div>
<div class="a" style="left:634px;top:350px;width:345px;height:1px;background:#c9cfdb;"></div>
<div class="a" style="left:634px;top:368px;width:345px;height:1px;background:#c9cfdb;"></div>
<div class="a" style="left:634px;top:386px;width:345px;height:1px;background:#c9cfdb;"></div>
<div class="a" style="left:634px;top:404px;width:345px;height:1px;background:#c9cfdb;"></div>
<div class="a" style="left:634px;top:422px;width:345px;height:1px;background:#c9cfdb;"></div>
<div class="a" style="left:634px;top:192px;width:1px;height:231px;background:#c9cfdb;"></div>
<div class="a" style="left:792px;top:192px;width:1px;height:231px;background:#c9cfdb;"></div>
<div class="a" style="left:854px;top:192px;width:1px;height:231px;background:#c9cfdb;"></div>
<div class="a" style="left:916px;top:192px;width:1px;height:231px;background:#c9cfdb;"></div>
<div class="a" style="left:978px;top:192px;width:1px;height:231px;background:#c9cfdb;"></div>
<div class="t b" style="left:637px;width:153px;top:194.50px;text-align:left;transform-origin:left;transform:scaleX(0.925);transform:scaleX(0.9281)">Ekonomiska mål</div>
<div class="t b" style="left:793px;width:61px;top:194.50px;text-align:center;transform-origin:center;">Mål 2025</div>
<div class="t b" style="left:855px;width:61px;top:194.50px;text-align:center;transform-origin:center;">Mål 2026</div>
<div class="t b" style="left:917px;width:62px;top:194.50px;text-align:center;transform-origin:center;">Mål 2027</div>
<div class="t b" style="left:637px;width:153px;top:210.15px;text-align:left;transform-origin:left;transform:scaleX(0.94);transform:scaleX(0.9438)">Företagets finansiering</div>
<div class="t m" style="left:637px;width:153px;top:227.80px;text-align:left;transform-origin:left;;transform:scaleX(0.9283)">Soliditet (%)</div>
<div class="inp" style="left:795px;top:227px;width:54px;height:13px;box-shadow:0 1px 0 rgba(0,0,0,0.03)"></div>
<div class="t n" style="left:795px;width:51.5px;top:227.30px;text-align:right;transform-origin:right;">77</div>
<div class="inp" style="left:857px;top:227px;width:54px;height:13px;box-shadow:0 1px 0 rgba(0,0,0,0.03)"></div>
<div class="t n" style="left:857px;width:51.5px;top:227.30px;text-align:right;transform-origin:right;">80</div>
<div class="inp" style="left:919px;top:227px;width:55px;height:13px;box-shadow:0 1px 0 rgba(0,0,0,0.03)"></div>
<div class="t n" style="left:919px;width:52.5px;top:227.30px;text-align:right;transform-origin:right;">82</div>
<div class="t m" style="left:637px;width:153px;top:245.85px;text-align:left;transform-origin:left;;transform:scaleX(0.9540)">Kapitalets omsättningshastighet (ggr/år)</div>
<div class="inp" style="left:795px;top:245px;width:54px;height:13px;box-shadow:0 1px 0 rgba(0,0,0,0.03)"></div>
<div class="t n" style="left:795px;width:51.5px;top:245.35px;text-align:right;transform-origin:right;">0</div>
<div class="inp" style="left:857px;top:245px;width:54px;height:13px;box-shadow:0 1px 0 rgba(0,0,0,0.03)"></div>
<div class="t n" style="left:857px;width:51.5px;top:245.35px;text-align:right;transform-origin:right;">0</div>
<div class="inp" style="left:919px;top:245px;width:55px;height:13px;box-shadow:0 1px 0 rgba(0,0,0,0.03)"></div>
<div class="t n" style="left:919px;width:52.5px;top:245.35px;text-align:right;transform-origin:right;">0</div>
<div class="t m" style="left:637px;width:153px;top:264.00px;text-align:left;transform-origin:left;;transform:scaleX(0.9459)">Rörelsekapital/Nettoomsättn (%)</div>
<div class="inp" style="left:795px;top:263px;width:54px;height:14px;box-shadow:0 1px 0 rgba(0,0,0,0.03)"></div>
<div class="t n" style="left:795px;width:51.5px;top:263.50px;text-align:right;transform-origin:right;">0</div>
<div class="inp" style="left:857px;top:263px;width:54px;height:14px;box-shadow:0 1px 0 rgba(0,0,0,0.03)"></div>
<div class="t n" style="left:857px;width:51.5px;top:263.50px;text-align:right;transform-origin:right;">0</div>
<div class="inp" style="left:919px;top:263px;width:55px;height:14px;box-shadow:0 1px 0 rgba(0,0,0,0.03)"></div>
<div class="t n" style="left:919px;width:52.5px;top:263.50px;text-align:right;transform-origin:right;">0</div>
<div class="t m" style="left:637px;width:153px;top:282.20px;text-align:left;transform-origin:left;;transform:scaleX(0.9188)">Kassalikviditet (%)</div>
<div class="inp" style="left:795px;top:282px;width:54px;height:13px;box-shadow:0 1px 0 rgba(0,0,0,0.03)"></div>
<div class="t n" style="left:795px;width:51.5px;top:281.70px;text-align:right;transform-origin:right;">0</div>
<div class="inp" style="left:857px;top:282px;width:54px;height:13px;box-shadow:0 1px 0 rgba(0,0,0,0.03)"></div>
<div class="t n" style="left:857px;width:51.5px;top:281.70px;text-align:right;transform-origin:right;">0</div>
<div class="inp" style="left:919px;top:282px;width:55px;height:13px;box-shadow:0 1px 0 rgba(0,0,0,0.03)"></div>
<div class="t n" style="left:919px;width:52.5px;top:281.70px;text-align:right;transform-origin:right;">0</div>
<div class="t m" style="left:637px;width:153px;top:300.50px;text-align:left;transform-origin:left;;transform:scaleX(0.9035)">Kassaflöde (kr)</div>
<div class="inp" style="left:795px;top:300px;width:54px;height:13px;box-shadow:0 1px 0 rgba(0,0,0,0.03)"></div>
<div class="t n" style="left:795px;width:51.5px;top:300.00px;text-align:right;transform-origin:right;">0</div>
<div class="inp" style="left:857px;top:300px;width:54px;height:13px;box-shadow:0 1px 0 rgba(0,0,0,0.03)"></div>
<div class="t n" style="left:857px;width:51.5px;top:300.00px;text-align:right;transform-origin:right;">0</div>
<div class="inp" style="left:919px;top:300px;width:55px;height:13px;box-shadow:0 1px 0 rgba(0,0,0,0.03)"></div>
<div class="t n" style="left:919px;width:52.5px;top:300.00px;text-align:right;transform-origin:right;">0</div>
<div class="t b" style="left:637px;width:153px;top:317.30px;text-align:left;transform-origin:left;transform:scaleX(0.94);transform:scaleX(0.9425)">Företagets resultat</div>
<div class="t m" style="left:637px;width:153px;top:335.05px;text-align:left;transform-origin:left;;transform:scaleX(0.9194)">Rörelseresultat (kr)</div>
<div class="inp" style="left:795px;top:334px;width:54px;height:14px;box-shadow:0 1px 0 rgba(0,0,0,0.03)"></div>
<div class="t n" style="left:795px;width:51.5px;top:334.55px;text-align:right;transform-origin:right;">0</div>
<div class="inp" style="left:857px;top:334px;width:54px;height:14px;box-shadow:0 1px 0 rgba(0,0,0,0.03)"></div>
<div class="t n" style="left:857px;width:51.5px;top:334.55px;text-align:right;transform-origin:right;">0</div>
<div class="inp" style="left:919px;top:334px;width:55px;height:14px;box-shadow:0 1px 0 rgba(0,0,0,0.03)"></div>
<div class="t n" style="left:919px;width:52.5px;top:334.55px;text-align:right;transform-origin:right;">0</div>
<div class="t m" style="left:637px;width:153px;top:353.30px;text-align:left;transform-origin:left;;transform:scaleX(0.9299)">Vinstmarginal (%)</div>
<div class="inp" style="left:795px;top:353px;width:54px;height:13px;box-shadow:0 1px 0 rgba(0,0,0,0.03)"></div>
<div class="t n" style="left:795px;width:51.5px;top:352.80px;text-align:right;transform-origin:right;">15</div>
<div class="inp" style="left:857px;top:353px;width:54px;height:13px;box-shadow:0 1px 0 rgba(0,0,0,0.03)"></div>
<div class="t n" style="left:857px;width:51.5px;top:352.80px;text-align:right;transform-origin:right;">16</div>
<div class="inp" style="left:919px;top:353px;width:55px;height:13px;box-shadow:0 1px 0 rgba(0,0,0,0.03)"></div>
<div class="t n" style="left:919px;width:52.5px;top:352.80px;text-align:right;transform-origin:right;">17</div>
<div class="t m" style="left:637px;width:153px;top:371.50px;text-align:left;transform-origin:left;;transform:scaleX(0.9481)">Avkastning Totalt kapital (%)</div>
<div class="inp" style="left:795px;top:371px;width:54px;height:13px;box-shadow:0 1px 0 rgba(0,0,0,0.03)"></div>
<div class="t n" style="left:795px;width:51.5px;top:371.00px;text-align:right;transform-origin:right;">21</div>
<div class="inp" style="left:857px;top:371px;width:54px;height:13px;box-shadow:0 1px 0 rgba(0,0,0,0.03)"></div>
<div class="t n" style="left:857px;width:51.5px;top:371.00px;text-align:right;transform-origin:right;">22</div>
<div class="inp" style="left:919px;top:371px;width:55px;height:13px;box-shadow:0 1px 0 rgba(0,0,0,0.03)"></div>
<div class="t n" style="left:919px;width:52.5px;top:371.00px;text-align:right;transform-origin:right;">23</div>
<div class="t m" style="left:637px;width:153px;top:389.65px;text-align:left;transform-origin:left;;transform:scaleX(0.9240)">Avkastning Eget kapital (%)</div>
<div class="inp" style="left:795px;top:389px;width:54px;height:13px;box-shadow:0 1px 0 rgba(0,0,0,0.03)"></div>
<div class="t n" style="left:795px;width:51.5px;top:389.15px;text-align:right;transform-origin:right;">0</div>
<div class="inp" style="left:857px;top:389px;width:54px;height:13px;box-shadow:0 1px 0 rgba(0,0,0,0.03)"></div>
<div class="t n" style="left:857px;width:51.5px;top:389.15px;text-align:right;transform-origin:right;">0</div>
<div class="inp" style="left:919px;top:389px;width:55px;height:13px;box-shadow:0 1px 0 rgba(0,0,0,0.03)"></div>
<div class="t n" style="left:919px;width:52.5px;top:389.15px;text-align:right;transform-origin:right;">0</div>
<div class="t m" style="left:637px;width:153px;top:407.80px;text-align:left;transform-origin:left;;transform:scaleX(0.9360)">Totalt Täckningsbidrag (kr)</div>
<div class="inp" style="left:795px;top:407px;width:54px;height:13px;box-shadow:0 1px 0 rgba(0,0,0,0.03)"></div>
<div class="t n" style="left:795px;width:51.5px;top:407.30px;text-align:right;transform-origin:right;">25 000 000</div>
<div class="inp" style="left:857px;top:407px;width:54px;height:13px;box-shadow:0 1px 0 rgba(0,0,0,0.03)"></div>
<div class="t n" style="left:857px;width:51.5px;top:407.30px;text-align:right;transform-origin:right;">27 000 000</div>
<div class="inp" style="left:919px;top:407px;width:55px;height:13px;box-shadow:0 1px 0 rgba(0,0,0,0.03)"></div>
<div class="t n" style="left:919px;width:52.5px;top:407.30px;text-align:right;transform-origin:right;">29 000 000</div>
</body></html>
